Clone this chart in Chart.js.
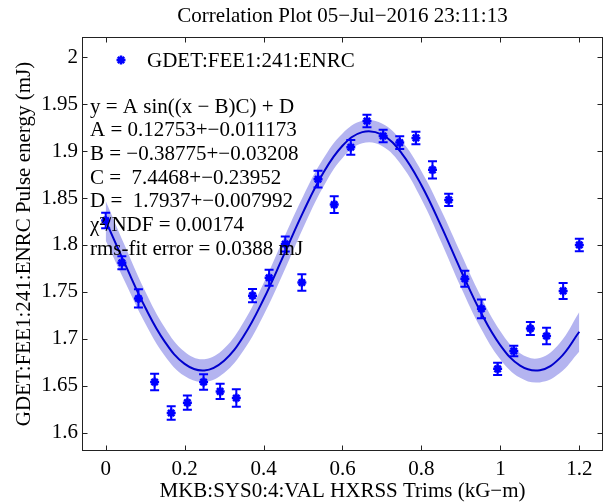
<!DOCTYPE html>
<html>
<head>
<meta charset="utf-8">
<title>Correlation Plot</title>
<script src="https://cdn.jsdelivr.net/npm/chart.js@4.4.1/dist/chart.umd.min.js"></script>
<style>
  html, body { margin: 0; padding: 0; background: #fff; }
  #wrap { width: 610px; height: 504px; }
</style>
</head>
<body>
<div id="wrap"><canvas id="corrChart" width="610" height="504"></canvas></div>
<script>
// measured points (trim setting vs pulse energy) with error bars
const trimX = [0, 0.041, 0.083, 0.124, 0.166, 0.207, 0.248, 0.290, 0.331, 0.372,
               0.414, 0.455, 0.497, 0.538, 0.579, 0.621, 0.662, 0.703, 0.745, 0.786,
               0.828, 0.869, 0.910, 0.952, 0.993, 1.034, 1.076, 1.117, 1.159, 1.2];
const pulseEnergy = [1.826, 1.781, 1.743, 1.654, 1.621, 1.632, 1.654, 1.644, 1.637, 1.746,
                     1.765, 1.801, 1.760, 1.870, 1.843, 1.904, 1.932, 1.916, 1.909, 1.914,
                     1.880, 1.848, 1.764, 1.732, 1.668, 1.687, 1.711, 1.703, 1.751, 1.800];
const pulseErr = [0.0083, 0.007, 0.0097, 0.0089, 0.0071, 0.0076, 0.0083, 0.0081, 0.0094, 0.007,
                  0.0085, 0.008, 0.0089, 0.0089, 0.0089, 0.0078, 0.0067, 0.0067, 0.0067, 0.0067,
                  0.0092, 0.0064, 0.0085, 0.010, 0.0065, 0.0055, 0.007, 0.0087, 0.0085, 0.0067];

// sine fit curve and its confidence band
const fitX = [0, 0.05, 0.1, 0.15, 0.2, 0.25, 0.3, 0.35, 0.4, 0.45, 0.5, 0.55, 0.6,
              0.65, 0.7, 0.75, 0.8, 0.85, 0.9, 0.95, 1.0, 1.05, 1.1, 1.15, 1.2];
const fitY = [1.8257, 1.7787, 1.7336, 1.6968, 1.6733, 1.6663, 1.6767, 1.7032, 1.7421, 1.7880,
              1.8347, 1.8759, 1.9057, 1.9202, 1.9174, 1.8976, 1.8636, 1.8200, 1.7728, 1.7285,
              1.6931, 1.6715, 1.6666, 1.6792, 1.7075];
const bandHalf = [0.021, 0.019, 0.017, 0.015, 0.013, 0.012, 0.013, 0.015, 0.017, 0.018,
                  0.017, 0.015, 0.013, 0.012, 0.012, 0.013, 0.015, 0.017, 0.018, 0.017,
                  0.015, 0.013, 0.013, 0.016, 0.021];

const titleText = 'Correlation Plot 05\u2212Jul\u22122016 23:11:13';
const legendLabel = 'GDET:FEE1:241:ENRC';
const xTitle = 'MKB:SYS0:4:VAL HXRSS Trims (kG\u2212m)';
const yTitle = 'GDET:FEE1:241:ENRC Pulse energy (mJ)';
const fitText = [
  'y = A sin((x \u2212 B)C) + D',
  'A = 0.12753+\u22120.011173',
  'B = \u22120.38775+\u22120.03208',
  'C =  7.4468+\u22120.23952',
  'D =  1.7937+\u22120.007992',
  '\u03c7\u00b2/NDF = 0.00174',
  'rms-fit error = 0.0388 mJ'
];

const SERIF = '"Liberation Serif", "Times New Roman", serif';
const BLUE = '#0000ff';
const zip = (xs, ys) => xs.map((x, i) => ({x: x, y: ys[i]}));
const fmt = v => String(+(+v).toFixed(3));

// matlab style: box with inward ticks, error bars, legend, text block, title
const matlabLook = {
  id: 'matlabLook',
  afterDatasetsDraw(chart) {
    const {ctx, scales: {x, y}} = chart;
    ctx.save();
    ctx.strokeStyle = BLUE;
    ctx.lineWidth = 2;
    trimX.forEach((v, i) => {
      const px = x.getPixelForValue(v);
      const t = y.getPixelForValue(pulseEnergy[i] + pulseErr[i]);
      const b = y.getPixelForValue(pulseEnergy[i] - pulseErr[i]);
      ctx.beginPath();
      ctx.moveTo(px, t); ctx.lineTo(px, b);
      ctx.moveTo(px - 4.5, t); ctx.lineTo(px + 4.5, t);
      ctx.moveTo(px - 4.5, b); ctx.lineTo(px + 4.5, b);
      ctx.stroke();
    });
    ctx.restore();
  },
  afterDraw(chart) {
    const {ctx, chartArea: a, scales: {x, y}} = chart;
    ctx.save();
    ctx.strokeStyle = '#222';
    ctx.lineWidth = 1;
    const L = Math.round(a.left) + 0.5, R = Math.round(a.right) - 0.5;
    const T = Math.round(a.top) + 0.5, B = Math.round(a.bottom) - 0.5;
    ctx.strokeRect(L, T, R - L, B - T);
    ctx.beginPath();
    x.ticks.forEach(t => {
      const px = Math.round(x.getPixelForValue(t.value)) + 0.5;
      ctx.moveTo(px, B); ctx.lineTo(px, B - 5);
      ctx.moveTo(px, T); ctx.lineTo(px, T + 5);
    });
    y.ticks.forEach(t => {
      const py = Math.round(y.getPixelForValue(t.value)) + 0.5;
      ctx.moveTo(L, py); ctx.lineTo(L + 5, py);
      ctx.moveTo(R, py); ctx.lineTo(R - 5, py);
    });
    ctx.stroke();

    // legend
    ctx.strokeStyle = BLUE;
    ctx.fillStyle = BLUE;
    ctx.lineWidth = 2.5;
    Chart.helpers.drawPoint(ctx, {pointStyle: 'star', radius: 4.5, borderWidth: 2.5, rotation: 0}, 121, 60);
    ctx.fillStyle = '#000';
    ctx.font = '21px ' + SERIF;
    ctx.textBaseline = 'middle';
    ctx.textAlign = 'left';
    ctx.fillText(legendLabel, 147, 61);

    // fit results
    fitText.forEach((line, i) => ctx.fillText(line, 90, 107 + i * 23.7));

    // title
    ctx.textAlign = 'center';
    ctx.fillText(titleText, (a.left + a.right) / 2, 16);
    ctx.restore();
  }
};

const chart = new Chart(document.getElementById('corrChart'), {
  type: 'scatter',
  data: {
    datasets: [
      {
        label: legendLabel,
        data: zip(trimX, pulseEnergy),
        pointStyle: 'star',
        pointRadius: 4.5,
        pointBorderWidth: 2.5,
        borderColor: BLUE,
        backgroundColor: BLUE
      },
      {
        type: 'line',
        data: zip(fitX, fitY),
        borderColor: '#0000cc',
        borderWidth: 2,
        pointRadius: 0,
        tension: 0.4,
        fill: false
      },
      {
        type: 'line',
        data: zip(fitX, fitY.map((v, i) => v + bandHalf[i])),
        borderColor: 'rgba(0,0,0,0)',
        pointRadius: 0,
        tension: 0.4,
        fill: false
      },
      {
        type: 'line',
        data: zip(fitX, fitY.map((v, i) => v - bandHalf[i])),
        borderColor: 'rgba(0,0,0,0)',
        backgroundColor: '#b4b4f0',
        pointRadius: 0,
        tension: 0.4,
        fill: '-1'
      }
    ]
  },
  options: {
    responsive: false,
    animation: false,
    devicePixelRatio: 1,
    layout: {padding: {top: 37, right: 2, left: 0, bottom: 0}},
    plugins: {legend: {display: false}, tooltip: {enabled: false}, title: {display: false}},
    scales: {
      x: {
        type: 'linear',
        min: -0.06,
        max: 1.26,
        grid: {display: false, drawTicks: false},
        border: {display: false},
        ticks: {stepSize: 0.2, includeBounds: false, padding: 6, maxRotation: 0,
                color: '#000', font: {family: SERIF, size: 21}, callback: fmt},
        title: {display: true, text: xTitle, color: '#000',
                font: {family: SERIF, size: 21}, padding: {top: 0, bottom: 0}},
        afterFit(s) { s.height = 53; }
      },
      y: {
        type: 'linear',
        min: 1.5805,
        max: 2.0215,
        grid: {display: false, drawTicks: false},
        border: {display: false},
        ticks: {stepSize: 0.05, includeBounds: false, padding: 4,
                color: '#000', font: {family: SERIF, size: 21}, callback: fmt},
        title: {display: true, text: yTitle, color: '#000',
                font: {family: SERIF, size: 21}, padding: {top: 12, bottom: 0}},
        afterFit(s) { s.width = 82; }
      }
    }
  },
  plugins: [matlabLook]
});
</script>
</body>
</html>
